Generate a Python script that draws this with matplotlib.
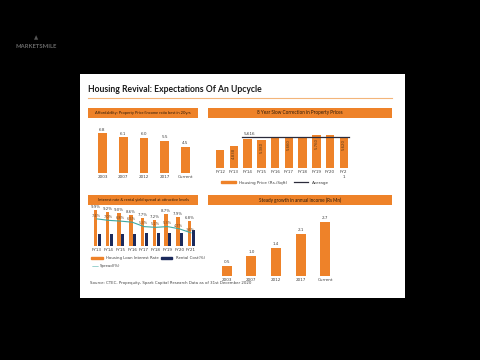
import numpy as np
from matplotlib import pyplot as plt
from matplotlib.lines import Line2D
from matplotlib.patches import Patch

# panel 1: affordability
aff_years = ['2003', '2007', '2012', '2017', 'Current']
aff_ratio = [6.8, 6.1, 6.0, 5.5, 4.5]

# panel 2: property prices
price_years = ['FY12', 'FY13', 'FY14', 'FY15', 'FY16', 'FY17', 'FY18', 'FY19', 'FY20', 'FY2\n1']
prices = [4420, 4838, 5420, 5380, 5650, 5660, 5640, 5760, 5800, 5620]
avg_price = 5616

# panel 3: interest rate vs rental
rate_years = ['FY13', 'FY14', 'FY15', 'FY16', 'FY17', 'FY18', 'FY19', 'FY20', 'FY21']
loan_rate = [9.9, 9.2, 9.0, 8.6, 7.7, 7.2, 8.7, 7.9, 6.8]
rental = [3.2, 3.3, 3.3, 3.4, 3.5, 3.6, 3.5, 3.6, 4.4]
spread = [7.4, 7.0, 6.8, 6.5, 5.3, 5.1, 5.3, 4.7, 3.6]

# panel 4: income
inc_years = ['2003', '2007', '2012', '2017', 'Current']
income = [0.5, 1.0, 1.4, 2.1, 2.7]

ORANGE = '#EE8229'
NAVY = '#1B2A5C'
TEAL = '#3FA9A3'
TXT = '#404040'

W, H = 480, 360


def box(x0, y0, x1, y1):
	return [x0 / W, 1 - y1 / H, (x1 - x0) / W, (y1 - y0) / H]


def clean(ax):
	for s in ax.spines.values():
		s.set_visible(False)
	ax.set_yticks([])
	ax.tick_params(axis='x', length=0, labelsize=3, colors=TXT, pad=1.5)


def title_bar(fig, rect, text, size=3.3):
	tb = fig.add_axes(box(*rect))
	tb.set_facecolor(ORANGE)
	tb.set_xticks([])
	tb.set_yticks([])
	for s in tb.spines.values():
		s.set_visible(False)
	tb.text(0.5, 0.5, text, ha='center', va='center', fontsize=size, color='#2a1a0a', family='Lato')


fig = plt.figure(figsize=(4.8, 3.6), dpi=100)
fig.patch.set_facecolor('black')

# logo
fig.text(36 / W, 1 - 46 / H, 'MARKETSMILE', fontsize=4.2, color='#6a6a6a', ha='center', va='center',
	family='Lato', weight='bold')
fig.text(36 / W, 1 - 38 / H, '\u25B2', fontsize=4, color='#555555', ha='center', va='center')

# slide
slide = fig.add_axes(box(80, 74, 405, 298))
slide.set_facecolor('white')
slide.set_xticks([])
slide.set_yticks([])
for s in slide.spines.values():
	s.set_visible(False)
slide.set_zorder(-1)

fig.text(88 / W, 1 - 89 / H, 'Housing Revival: Expectations Of An Upcycle', fontsize=6.2, weight='bold',
	color='#1a1a1a', family='Lato', va='center')
fig.add_artist(Line2D([88 / W, 392 / W], [1 - 98 / H, 1 - 98 / H], color='#F3B57A', lw=0.8))

# panel 1
title_bar(fig, (88, 108, 198, 118), 'Affordability: Property Price/Income ratio best in 20yrs', 2.9)
ax1 = fig.add_axes(box(90, 124, 198, 173))
x = np.arange(len(aff_years))
ax1.bar(x, aff_ratio, width=0.42, color=ORANGE)
for i, v in enumerate(aff_ratio):
	ax1.text(i, v + 0.3, f'{v:.1f}', ha='center', va='bottom', fontsize=3, color=TXT)
ax1.set_xticks(x, aff_years)
ax1.set_xlim(-0.6, len(x) - 0.4)
ax1.set_ylim(0, 8.4)
clean(ax1)

# panel 2
title_bar(fig, (208, 108, 392, 118), '8 Year Slow Correction in Property Prices')
ax2 = fig.add_axes(box(212, 124, 352, 168))
x = np.arange(len(price_years))
ax2.bar(x, prices, width=0.62, color=ORANGE)
ax2.plot([2 - 0.4, len(x) - 0.6], [avg_price, avg_price], color='#2b2b3b', lw=0.9)
ax2.text(2.1, avg_price + 120, f'{avg_price:,}', fontsize=3, color=TXT, ha='center', va='bottom')
for i in range(1, len(x), 2):
	ax2.text(i, prices[i] - 200, f'{prices[i]:,}', rotation=90, fontsize=2.8, color='#5a3a1a',
		ha='center', va='top')
ax2.set_xticks(x, price_years)
ax2.set_xlim(-0.6, len(x) - 0.4)
ax2.set_ylim(2800, 6800)
clean(ax2)
ax2.legend([Patch(color=ORANGE), Line2D([0], [0], color='#2b2b3b', lw=0.9)],
	['Housing Price (Rs./Sqft)', 'Average'], loc='upper center', bbox_to_anchor=(0.45, -0.2), ncol=2,
	frameon=False, fontsize=3, handlelength=3.5, handleheight=0.6, columnspacing=1.5, labelcolor=TXT)

# panel 3
title_bar(fig, (88, 195, 198, 205), 'Interest rate & rental yield spread at attractive levels', 2.9)
ax3 = fig.add_axes(box(90, 205, 198, 246))
x = np.arange(len(rate_years))
ax3.bar(x - 0.12, loan_rate, width=0.3, color=ORANGE)
ax3.bar(x + 0.2, rental, width=0.26, color=NAVY)
ax3.plot(x, spread, color=TEAL, lw=0.8)
for i in range(len(x)):
	ax3.text(x[i] - 0.12, loan_rate[i] + 0.25, f'{loan_rate[i]:.1f}%', ha='center', va='bottom',
		fontsize=2.8, color=TXT)
	ax3.text(x[i] - 0.05, spread[i] + 0.3, f'{spread[i]:.1f}%', ha='center', va='bottom',
		fontsize=2.5, color='#6a4a2a')
ax3.set_xticks(x, rate_years)
ax3.set_xlim(-0.6, len(x) - 0.4)
ax3.set_ylim(0, 11.2)
clean(ax3)
ax3.legend([Patch(color=ORANGE), Patch(color=NAVY)], ['Housing Loan Interest Rate', 'Rental Cost(%)'],
	loc='upper left', bbox_to_anchor=(-0.02, -0.17), ncol=2, frameon=False, fontsize=2.8,
	handlelength=3, handleheight=0.6, columnspacing=0.5, labelcolor=TXT)
fig.text(92 / W, 1 - 266 / H, '\u2014', color=TEAL, fontsize=5, va='center')
fig.text(100 / W, 1 - 266 / H, 'Spread(%)', color=TXT, fontsize=2.8, va='center')
fig.text(90 / W, 1 - 283 / H, 'Source: CTEC, Propequity, Spark Capital Research Data as of 31st December 2020',
	color=TXT, fontsize=2.8, va='center')

# panel 4
title_bar(fig, (208, 195, 392, 205), 'Steady growth in annual income (Rs Mn)')
ax4 = fig.add_axes(box(212, 212, 340, 276))
x = np.arange(len(inc_years))
ax4.bar(x, income, width=0.4, color=ORANGE)
for i, v in enumerate(income):
	ax4.text(i, v + 0.12, f'{v:.1f}', ha='center', va='bottom', fontsize=3, color=TXT)
ax4.set_xticks(x, inc_years)
ax4.set_xlim(-0.6, len(x) - 0.4)
ax4.set_ylim(0, 3.2)
clean(ax4)

fig.savefig('out.png', dpi=100, facecolor='black')
